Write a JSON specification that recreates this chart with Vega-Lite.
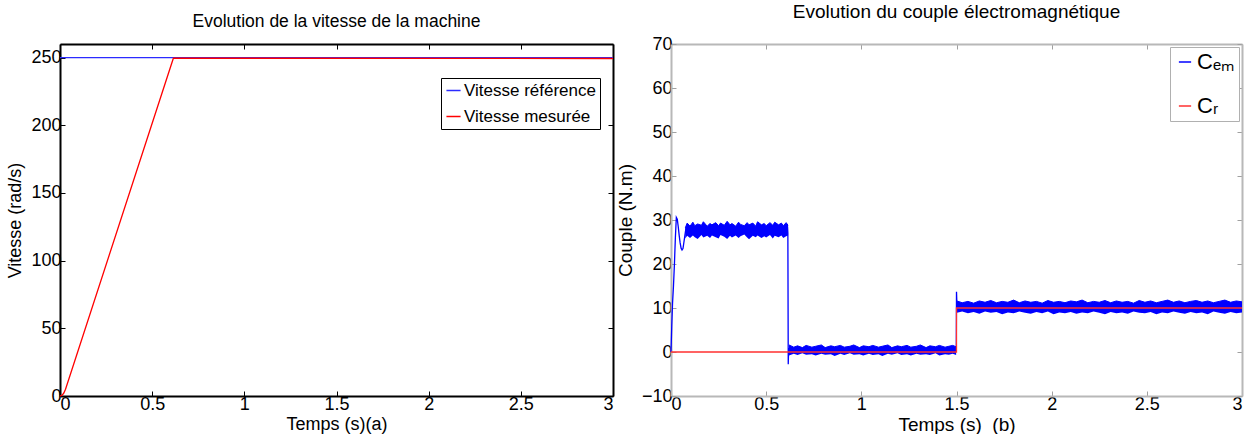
{
  "$schema": "https://vega.github.io/schema/vega-lite/v6.json",
  "background": "white",
  "padding": {"left": 6, "top": 3, "right": 5, "bottom": 0},
  "config": {
    "font": "Liberation Sans",
    "view": {"stroke": null},
    "axis": {"grid": false, "labelFontSize": 18, "titleFontSize": 18, "titleFontWeight": "normal", "labelColor": "#000", "titleColor": "#000", "tickSize": -5, "domainWidth": 2, "labelPadding": 4, "titlePadding": 4, "labelFont": "Liberation Sans", "titleFont": "Liberation Sans"},
    "title": {"fontSize": 17.5, "fontWeight": "normal", "font": "Liberation Sans", "color": "#000"},
    "concat": {"spacing": 0}
  },
  "resolve": {"scale": {"color": "independent"}, "legend": {"color": "independent"}},
  "datasets": {
    "speed": [
      {"s": "Vitesse référence", "i": 0, "t": 0, "v": 250},
      {"s": "Vitesse référence", "i": 1, "t": 3, "v": 250},
      {"s": "Vitesse mesurée", "i": 0, "t": 0, "v": 0},
      {"s": "Vitesse mesurée", "i": 1, "t": 0.01, "v": 0.5},
      {"s": "Vitesse mesurée", "i": 2, "t": 0.02, "v": 2},
      {"s": "Vitesse mesurée", "i": 3, "t": 0.03, "v": 5},
      {"s": "Vitesse mesurée", "i": 4, "t": 0.615, "v": 249.5},
      {"s": "Vitesse mesurée", "i": 5, "t": 3, "v": 249.3}
    ],
    "band": [
      {"g": 1, "t": 0.075, "lo": 25.8, "hi": 28.2},
      {"g": 1, "t": 0.085, "lo": 26.4, "hi": 29.3},
      {"g": 1, "t": 0.1, "lo": 25.9, "hi": 28.6},
      {"g": 1, "t": 0.115, "lo": 26.5, "hi": 29.5},
      {"g": 1, "t": 0.125, "lo": 26.1, "hi": 28.7},
      {"g": 1, "t": 0.14, "lo": 25.7, "hi": 29.1},
      {"g": 1, "t": 0.16, "lo": 26.6, "hi": 28.8},
      {"g": 1, "t": 0.17, "lo": 26.0, "hi": 29.6},
      {"g": 1, "t": 0.19, "lo": 26.4, "hi": 28.6},
      {"g": 1, "t": 0.205, "lo": 25.9, "hi": 29.2},
      {"g": 1, "t": 0.215, "lo": 26.5, "hi": 28.9},
      {"g": 1, "t": 0.235, "lo": 26.1, "hi": 29.4},
      {"g": 1, "t": 0.25, "lo": 25.8, "hi": 28.7},
      {"g": 1, "t": 0.26, "lo": 26.6, "hi": 29.3},
      {"g": 1, "t": 0.28, "lo": 26.2, "hi": 28.8},
      {"g": 1, "t": 0.295, "lo": 25.7, "hi": 29.7},
      {"g": 1, "t": 0.31, "lo": 26.4, "hi": 28.9},
      {"g": 1, "t": 0.32, "lo": 26.0, "hi": 29.2},
      {"g": 1, "t": 0.34, "lo": 26.5, "hi": 28.6},
      {"g": 1, "t": 0.355, "lo": 25.9, "hi": 29.5},
      {"g": 1, "t": 0.365, "lo": 26.3, "hi": 29.0},
      {"g": 1, "t": 0.385, "lo": 26.7, "hi": 28.7},
      {"g": 1, "t": 0.4, "lo": 26.0, "hi": 29.4},
      {"g": 1, "t": 0.41, "lo": 25.6, "hi": 28.9},
      {"g": 1, "t": 0.43, "lo": 26.4, "hi": 29.3},
      {"g": 1, "t": 0.445, "lo": 26.1, "hi": 28.6},
      {"g": 1, "t": 0.455, "lo": 26.5, "hi": 29.6},
      {"g": 1, "t": 0.475, "lo": 25.9, "hi": 28.9},
      {"g": 1, "t": 0.49, "lo": 26.3, "hi": 29.2},
      {"g": 1, "t": 0.5, "lo": 26.0, "hi": 28.7},
      {"g": 1, "t": 0.52, "lo": 26.6, "hi": 29.4},
      {"g": 1, "t": 0.535, "lo": 25.8, "hi": 28.8},
      {"g": 1, "t": 0.545, "lo": 26.4, "hi": 29.5},
      {"g": 1, "t": 0.565, "lo": 26.1, "hi": 28.9},
      {"g": 1, "t": 0.58, "lo": 26.5, "hi": 29.3},
      {"g": 1, "t": 0.59, "lo": 25.9, "hi": 28.7},
      {"g": 1, "t": 0.605, "lo": 26.3, "hi": 29.4},
      {"g": 1, "t": 0.615, "lo": 26.5, "hi": 28.8},
      {"g": 2, "t": 0.62, "lo": -0.8, "hi": 1.6},
      {"g": 2, "t": 0.645, "lo": -0.4, "hi": 1.1},
      {"g": 2, "t": 0.665, "lo": -0.7, "hi": 1.4},
      {"g": 2, "t": 0.69, "lo": -0.3, "hi": 1.0},
      {"g": 2, "t": 0.71, "lo": -0.6, "hi": 1.5},
      {"g": 2, "t": 0.74, "lo": -0.5, "hi": 1.1},
      {"g": 2, "t": 0.76, "lo": -0.8, "hi": 1.3},
      {"g": 2, "t": 0.79, "lo": -0.4, "hi": 1.6},
      {"g": 2, "t": 0.81, "lo": -0.6, "hi": 1.0},
      {"g": 2, "t": 0.84, "lo": -0.5, "hi": 1.4},
      {"g": 2, "t": 0.86, "lo": -0.9, "hi": 1.2},
      {"g": 2, "t": 0.89, "lo": -0.4, "hi": 1.5},
      {"g": 2, "t": 0.91, "lo": -0.7, "hi": 1.1},
      {"g": 2, "t": 0.94, "lo": -0.3, "hi": 1.3},
      {"g": 2, "t": 0.96, "lo": -0.6, "hi": 1.6},
      {"g": 2, "t": 0.99, "lo": -0.5, "hi": 1.0},
      {"g": 2, "t": 1.01, "lo": -0.8, "hi": 1.4},
      {"g": 2, "t": 1.04, "lo": -0.4, "hi": 1.2},
      {"g": 2, "t": 1.06, "lo": -0.7, "hi": 1.5},
      {"g": 2, "t": 1.09, "lo": -0.5, "hi": 1.1},
      {"g": 2, "t": 1.11, "lo": -0.9, "hi": 1.3},
      {"g": 2, "t": 1.14, "lo": -0.4, "hi": 1.6},
      {"g": 2, "t": 1.16, "lo": -0.6, "hi": 1.0},
      {"g": 2, "t": 1.19, "lo": -0.3, "hi": 1.4},
      {"g": 2, "t": 1.21, "lo": -0.7, "hi": 1.2},
      {"g": 2, "t": 1.24, "lo": -0.5, "hi": 1.5},
      {"g": 2, "t": 1.26, "lo": -0.8, "hi": 1.1},
      {"g": 2, "t": 1.29, "lo": -0.4, "hi": 1.3},
      {"g": 2, "t": 1.31, "lo": -0.6, "hi": 1.6},
      {"g": 2, "t": 1.34, "lo": -0.5, "hi": 1.0},
      {"g": 2, "t": 1.36, "lo": -0.7, "hi": 1.4},
      {"g": 2, "t": 1.39, "lo": -0.3, "hi": 1.2},
      {"g": 2, "t": 1.41, "lo": -0.8, "hi": 1.5},
      {"g": 2, "t": 1.44, "lo": -0.5, "hi": 1.1},
      {"g": 2, "t": 1.46, "lo": -0.6, "hi": 1.3},
      {"g": 2, "t": 1.48, "lo": -0.4, "hi": 1.5},
      {"g": 2, "t": 1.498, "lo": -0.7, "hi": 1.2},
      {"g": 3, "t": 1.502, "lo": 8.9, "hi": 11.6},
      {"g": 3, "t": 1.53, "lo": 9.2, "hi": 11.2},
      {"g": 3, "t": 1.56, "lo": 8.8, "hi": 11.5},
      {"g": 3, "t": 1.59, "lo": 9.1, "hi": 11.1},
      {"g": 3, "t": 1.62, "lo": 8.7, "hi": 11.6},
      {"g": 3, "t": 1.65, "lo": 9.2, "hi": 11.3},
      {"g": 3, "t": 1.68, "lo": 8.9, "hi": 11.7},
      {"g": 3, "t": 1.71, "lo": 9.1, "hi": 11.2},
      {"g": 3, "t": 1.74, "lo": 8.6, "hi": 11.5},
      {"g": 3, "t": 1.77, "lo": 9.0, "hi": 11.3},
      {"g": 3, "t": 1.80, "lo": 8.8, "hi": 11.8},
      {"g": 3, "t": 1.83, "lo": 9.2, "hi": 11.2},
      {"g": 3, "t": 1.86, "lo": 8.9, "hi": 11.6},
      {"g": 3, "t": 1.89, "lo": 8.7, "hi": 11.3},
      {"g": 3, "t": 1.92, "lo": 9.1, "hi": 11.5},
      {"g": 3, "t": 1.95, "lo": 8.8, "hi": 11.1},
      {"g": 3, "t": 1.98, "lo": 9.2, "hi": 11.7},
      {"g": 3, "t": 2.01, "lo": 8.6, "hi": 11.3},
      {"g": 3, "t": 2.04, "lo": 9.0, "hi": 11.5},
      {"g": 3, "t": 2.07, "lo": 8.8, "hi": 11.2},
      {"g": 3, "t": 2.10, "lo": 9.1, "hi": 11.6},
      {"g": 3, "t": 2.13, "lo": 8.7, "hi": 11.4},
      {"g": 3, "t": 2.16, "lo": 9.0, "hi": 11.8},
      {"g": 3, "t": 2.19, "lo": 8.8, "hi": 11.2},
      {"g": 3, "t": 2.22, "lo": 9.2, "hi": 11.5},
      {"g": 3, "t": 2.25, "lo": 8.9, "hi": 11.3},
      {"g": 3, "t": 2.28, "lo": 8.6, "hi": 11.7},
      {"g": 3, "t": 2.31, "lo": 9.1, "hi": 11.2},
      {"g": 3, "t": 2.34, "lo": 8.8, "hi": 11.6},
      {"g": 3, "t": 2.37, "lo": 9.0, "hi": 11.3},
      {"g": 3, "t": 2.40, "lo": 8.7, "hi": 11.5},
      {"g": 3, "t": 2.43, "lo": 9.2, "hi": 11.1},
      {"g": 3, "t": 2.46, "lo": 8.9, "hi": 11.7},
      {"g": 3, "t": 2.49, "lo": 8.8, "hi": 11.3},
      {"g": 3, "t": 2.52, "lo": 9.1, "hi": 11.6},
      {"g": 3, "t": 2.55, "lo": 8.6, "hi": 11.2},
      {"g": 3, "t": 2.58, "lo": 9.0, "hi": 11.5},
      {"g": 3, "t": 2.61, "lo": 8.8, "hi": 11.8},
      {"g": 3, "t": 2.64, "lo": 9.2, "hi": 11.3},
      {"g": 3, "t": 2.67, "lo": 8.9, "hi": 11.6},
      {"g": 3, "t": 2.70, "lo": 8.7, "hi": 11.2},
      {"g": 3, "t": 2.73, "lo": 9.1, "hi": 11.5},
      {"g": 3, "t": 2.76, "lo": 8.8, "hi": 11.7},
      {"g": 3, "t": 2.79, "lo": 9.0, "hi": 11.3},
      {"g": 3, "t": 2.82, "lo": 8.6, "hi": 11.6},
      {"g": 3, "t": 2.85, "lo": 9.2, "hi": 11.2},
      {"g": 3, "t": 2.88, "lo": 8.9, "hi": 11.5},
      {"g": 3, "t": 2.91, "lo": 8.7, "hi": 11.8},
      {"g": 3, "t": 2.94, "lo": 9.1, "hi": 11.3},
      {"g": 3, "t": 2.97, "lo": 8.8, "hi": 11.6},
      {"g": 3, "t": 3.0, "lo": 9.0, "hi": 11.4}
    ],
    "torque": [
      {"s": "Cₑₘ", "g": "a", "i": 0, "t": 0, "c": 0},
      {"s": "Cₑₘ", "g": "a", "i": 1, "t": 0.004, "c": 6},
      {"s": "Cₑₘ", "g": "a", "i": 2, "t": 0.008, "c": 11},
      {"s": "Cₑₘ", "g": "a", "i": 3, "t": 0.013, "c": 15},
      {"s": "Cₑₘ", "g": "a", "i": 4, "t": 0.018, "c": 20},
      {"s": "Cₑₘ", "g": "a", "i": 5, "t": 0.023, "c": 26},
      {"s": "Cₑₘ", "g": "a", "i": 6, "t": 0.028, "c": 30.6},
      {"s": "Cₑₘ", "g": "a", "i": 7, "t": 0.033, "c": 30.2},
      {"s": "Cₑₘ", "g": "a", "i": 8, "t": 0.038, "c": 28.5},
      {"s": "Cₑₘ", "g": "a", "i": 9, "t": 0.043, "c": 26.5},
      {"s": "Cₑₘ", "g": "a", "i": 10, "t": 0.048, "c": 24.8},
      {"s": "Cₑₘ", "g": "a", "i": 11, "t": 0.053, "c": 23.6},
      {"s": "Cₑₘ", "g": "a", "i": 12, "t": 0.058, "c": 23.2},
      {"s": "Cₑₘ", "g": "a", "i": 13, "t": 0.063, "c": 23.5},
      {"s": "Cₑₘ", "g": "a", "i": 14, "t": 0.068, "c": 25},
      {"s": "Cₑₘ", "g": "a", "i": 15, "t": 0.073, "c": 26.5},
      {"s": "Cₑₘ", "g": "a", "i": 16, "t": 0.078, "c": 28},
      {"s": "Cₑₘ", "g": "a", "i": 17, "t": 0.085, "c": 28.8},
      {"s": "Cₑₘ", "g": "a", "i": 18, "t": 0.09, "c": 28},
      {"s": "Cₑₘ", "g": "b", "i": 0, "t": 0.612, "c": 28.5},
      {"s": "Cₑₘ", "g": "b", "i": 1, "t": 0.614, "c": 27},
      {"s": "Cₑₘ", "g": "b", "i": 2, "t": 0.616, "c": -2.8},
      {"s": "Cₑₘ", "g": "b", "i": 3, "t": 0.618, "c": 0.8},
      {"s": "Cₑₘ", "g": "b", "i": 4, "t": 0.622, "c": 0.3},
      {"s": "Cₑₘ", "g": "c", "i": 0, "t": 1.497, "c": 0.4},
      {"s": "Cₑₘ", "g": "c", "i": 1, "t": 1.499, "c": 1},
      {"s": "Cₑₘ", "g": "c", "i": 2, "t": 1.5, "c": 13.7},
      {"s": "Cₑₘ", "g": "c", "i": 3, "t": 1.502, "c": 11},
      {"s": "Cₑₘ", "g": "c", "i": 4, "t": 1.506, "c": 10.2},
      {"s": "Cᵣ", "g": "r", "i": 0, "t": 0, "c": 0},
      {"s": "Cᵣ", "g": "r", "i": 1, "t": 1.5, "c": 0},
      {"s": "Cᵣ", "g": "r", "i": 2, "t": 1.5, "c": 10},
      {"s": "Cᵣ", "g": "r", "i": 3, "t": 3, "c": 10}
    ]
  },
  "hconcat": [
    {
      "width": 553,
      "height": 352,
      "title": {"text": "Evolution de la vitesse de la machine", "offset": 13},
      "data": {"name": "speed"},
      "layer": [
        {
          "mark": {"type": "line", "strokeWidth": 1.3},
          "encoding": {
            "x": {"field": "t", "type": "quantitative", "scale": {"domain": [0, 3], "nice": false},
                  "axis": {"values": [0, 0.5, 1, 1.5, 2, 2.5, 3], "format": "~g", "title": "Temps (s)(a)", "domainColor": "#000", "tickColor": "#000", "titlePadding": 2}},
            "y": {"field": "v", "type": "quantitative", "scale": {"domain": [0, 260], "nice": false},
                  "axis": {"values": [0, 50, 100, 150, 200, 250], "title": "Vitesse (rad/s)", "domainColor": "#000", "tickColor": "#000", "titlePadding": 6}},
            "color": {"field": "s", "type": "nominal",
                      "scale": {"domain": ["Vitesse référence", "Vitesse mesurée"], "range": ["#2b2bff", "#ff0000"]},
                      "legend": {"orient": "none", "legendX": 381, "legendY": 34, "title": null, "labelFontSize": 17, "labelFont": "Liberation Sans", "labelColor": "#000", "symbolType": "stroke", "symbolSize": 200, "symbolStrokeWidth": 1.5, "strokeColor": "#000", "fillColor": "white", "padding": 4, "rowPadding": 8, "labelLimit": 300, "labelOffset": 2}},
            "order": {"field": "i"}
          }
        },
        {
          "mark": {"type": "line", "opacity": 0},
          "encoding": {
            "x": {"field": "t", "type": "quantitative", "axis": {"orient": "top", "labels": false, "title": null, "values": [0, 0.5, 1, 1.5, 2, 2.5, 3], "domainColor": "#000", "tickColor": "#000"}},
            "y": {"field": "v", "type": "quantitative", "axis": {"orient": "right", "labels": false, "title": null, "values": [0, 50, 100, 150, 200, 250], "domainColor": "#000", "tickColor": "#000"}},
            "detail": {"field": "s"}
          }
        }
      ],
      "resolve": {"axis": {"x": "independent", "y": "independent"}}
    },
    {
      "width": 571,
      "height": 352,
      "title": {"text": "Evolution du couple électromagnétique", "offset": 13, "fontSize": 19},
      "layer": [
        {
          "data": {"name": "band"},
          "mark": {"type": "area", "color": "#0000ff", "opacity": 1, "line": {"color": "#0000ff", "strokeWidth": 1}},
          "encoding": {
            "x": {"field": "t", "type": "quantitative", "scale": {"domain": [0, 3], "nice": false},
                  "axis": {"values": [0, 0.5, 1, 1.5, 2, 2.5, 3], "format": "~g", "title": "Temps (s)\u00a0\u00a0(b)", "titleFontSize": 19, "domainColor": "#b8b8b8", "tickColor": "#a0a0a0", "titlePadding": 2}},
            "y": {"field": "hi", "type": "quantitative", "scale": {"domain": [-10, 70], "nice": false},
                  "axis": {"values": [-10, 0, 10, 20, 30, 40, 50, 60, 70], "title": "Couple (N.m)", "titleFontSize": 19, "domainColor": "#b8b8b8", "tickColor": "#a0a0a0", "titlePadding": 6}},
            "y2": {"field": "lo"},
            "detail": {"field": "g"}
          }
        },
        {
          "data": {"name": "torque"},
          "mark": {"type": "line", "strokeWidth": 1.3},
          "encoding": {
            "x": {"field": "t", "type": "quantitative", "axis": null},
            "y": {"field": "c", "type": "quantitative", "axis": null},
            "color": {"field": "s", "type": "nominal",
                      "scale": {"domain": ["Cₑₘ", "Cᵣ"], "range": ["#0000ff", "#ff3030"]},
                      "legend": {"orient": "top-right", "offset": 3, "title": null, "labelFontSize": 22, "labelFont": "Liberation Sans", "labelColor": "#000", "symbolType": "stroke", "symbolSize": 150, "symbolStrokeWidth": 1.5, "strokeColor": "#b0b0b0", "fillColor": "white", "padding": 4, "rowPadding": 22, "labelOffset": 1}},
            "detail": {"field": "g"},
            "order": {"field": "i"}
          }
        },
        {
          "data": {"name": "torque"},
          "mark": {"type": "line", "opacity": 0},
          "encoding": {
            "x": {"field": "t", "type": "quantitative", "axis": {"orient": "top", "labels": false, "title": null, "values": [0, 0.5, 1, 1.5, 2, 2.5, 3], "domainColor": "#b8b8b8", "tickColor": "#a0a0a0"}},
            "y": {"field": "c", "type": "quantitative", "axis": {"orient": "right", "labels": false, "title": null, "values": [-10, 0, 10, 20, 30, 40, 50, 60, 70], "domainColor": "#b8b8b8", "tickColor": "#a0a0a0"}},
            "detail": {"field": "g"}
          }
        }
      ],
      "resolve": {"axis": {"x": "independent", "y": "independent"}}
    }
  ]
}
